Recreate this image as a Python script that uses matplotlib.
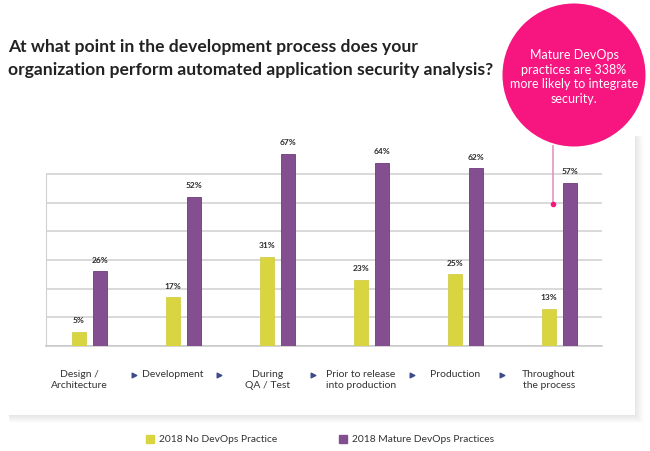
import numpy as np
import matplotlib
matplotlib.use("Agg")
import matplotlib.pyplot as plt
from matplotlib.patches import Rectangle, Circle

# data
categories = ["Design /\nArchitecture", "Development", "During\nQA / Test",
              "Prior to release\ninto production", "Production", "Throughout\nthe process"]
series_names = ["2018 No DevOps Practice", "2018 Mature DevOps Practices"]
no_devops = [5, 17, 31, 23, 25, 13]
mature_devops = [26, 52, 67, 64, 62, 57]

yellow = "#d9d541"
purple = "#844f90"
pink = "#f7157f"
W, H = 650, 451

plt.rcParams['font.family'] = ['Lato', 'DejaVu Sans']
fig = plt.figure(figsize=(W / 100, H / 100), dpi=100)

def px_box(x0, y0, x1, y1):
    # pixel box (top-left origin) -> figure fraction rect
    return [x0 / W, 1 - y1 / H, (x1 - x0) / W, (y1 - y0) / H]

# background layer: card with soft shadow (mostly right / bottom)
bg = fig.add_axes([0, 0, 1, 1], zorder=0)
bg.set_xlim(0, W)
bg.set_ylim(H, 0)
bg.axis("off")
for i in range(1, 9):
    bg.add_patch(Rectangle((8 + i * 0.2, 135 + i * 0.2), 627 + i * 0.8, 280 + i * 0.8,
                           facecolor="#000000", alpha=0.012, edgecolor="none"))
bg.add_patch(Rectangle((8, 135), 627, 280, facecolor="white", edgecolor="none"))

# chart
ax = fig.add_axes(px_box(46, 346 - 75 * 2.867, 601.7, 346), zorder=2)
ax.patch.set_alpha(0)
x = np.arange(len(categories))
bw = 0.152
off = 0.113
b1 = ax.bar(x - off, no_devops, bw, color=yellow, edgecolor="#cfca3a", linewidth=0.5, zorder=3)
b2 = ax.bar(x + off, mature_devops, bw, color=purple, edgecolor="#6e3b7c", linewidth=0.6, zorder=3)
for bars, vals in ((b1, no_devops), (b2, mature_devops)):
    for r, v in zip(bars, vals):
        ax.annotate(f"{v}%", (r.get_x() + r.get_width() / 2, v), xytext=(0, 5.5),
                    textcoords="offset points", ha="center", va="bottom",
                    fontsize=6, fontweight="bold", color="#2b2b2b")

ax.set_xlim(-0.463, 5.45)
ax.set_ylim(0, 75)
ax.set_yticks(np.arange(0, 61, 10))
ax.yaxis.grid(True, color="#d0d0d0", linewidth=1.1, zorder=0)
ax.tick_params(axis="y", length=0, labelleft=False)
for s in ("top", "right"):
    ax.spines[s].set_visible(False)
ax.spines["left"].set_bounds(0, 60)
ax.spines["left"].set_color("#d0d0d0")
ax.spines["bottom"].set_color("#c8c8c8")
ax.spines["bottom"].set_linewidth(1.1)
ax.set_xticks(x - 0.11)
ax.set_xticklabels(categories, fontsize=7.5, color="#333333", linespacing=1.35)
ax.tick_params(axis="x", length=0, pad=17)

# arrows between stages
arrow_pos = [0.47, 1.38, 2.38, 3.43, 4.39]
ax.scatter(arrow_pos, [-10.2] * len(arrow_pos), marker=">", s=11, color="#3e4a8a",
           clip_on=False, zorder=4)

# foreground layer: callout, title, legend
fg = fig.add_axes([0, 0, 1, 1], zorder=3)
fg.set_xlim(0, W)
fg.set_ylim(H, 0)
fg.axis("off")
fg.patch.set_alpha(0)

fig.text(8 / W, 1 - 47 / H,
         "At what point in the development process does your",
         fontsize=12.6, fontweight="bold", color="#222222", va="center")
fig.text(8 / W, 1 - 70 / H,
         "organization perform automated application security analysis?",
         fontsize=12.6, fontweight="bold", color="#222222", va="center")

fg.plot([552.7, 552.7], [146, 204], color="#e493c4", linewidth=1.2, zorder=4)
fg.plot([552.7], [204], "o", color=pink, markersize=3, zorder=4)
fg.add_patch(Circle((574, 75), 71.5, facecolor=pink, edgecolor="none", zorder=5))
fg.text(574, 77, "Mature DevOps\npractices are 338%\nmore likely to integrate\nsecurity.",
        ha="center", va="center", color="white", fontsize=9, linespacing=1.25, zorder=6)

for cx, col, name in ((150, yellow, series_names[0]), (343, purple, series_names[1])):
    fg.plot([cx], [439], "s", color=col, markersize=5.5)
    fg.text(cx + 9, 439, name, va="center", fontsize=7.4, color="#333333")

fig.savefig("out.png", dpi=100)
